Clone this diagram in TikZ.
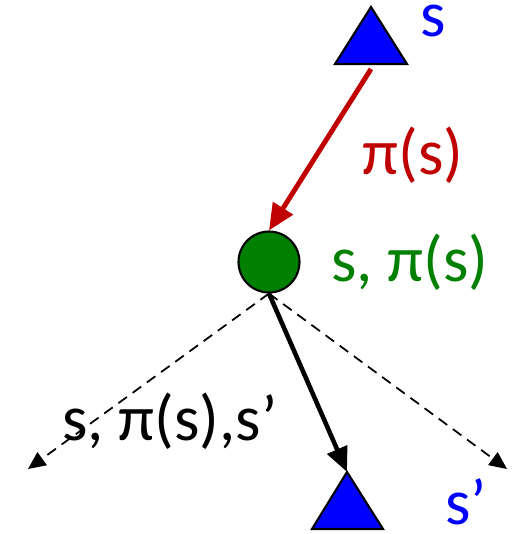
\documentclass[tikz,border=0pt]{standalone}
\usepackage{fontspec}
\setmainfont{Carlito}
\usetikzlibrary{positioning, calc, arrows.meta}
\definecolor{sblue}{RGB}{0,0,255}
\definecolor{sred}{RGB}{192,0,0}
\definecolor{sgreen}{RGB}{0,128,0}

\tikzset{
  tri/.style={draw=black, line width=1.2pt, fill=sblue},
  lbl/.style={font=\fontsize{37}{40}\selectfont, inner sep=0pt},
  chance/.style={dashed, dash pattern=on 6pt off 4pt, line width=1pt,
                 -{Triangle[length=10pt,width=9pt]}},
}

\begin{document}
\begin{tikzpicture}[x=0.02cm, y=-0.02cm]
            \useasboundingbox (0,0) rectangle (521,534);

            % top state
            \coordinate (Sapex) at (371,7);
            \coordinate (Sl) at (335,64);
            \coordinate (Sr) at (407,64);
            \fill[tri] (Sapex) -- (Sl) -- (Sr) -- cycle;
            \node[lbl, text=sblue, anchor=base] (ls) at (433,36) {s};

            % q-state
            \node[circle, draw=black, line width=1.2pt, fill=sgreen,
                  inner sep=0pt, minimum size=1.22cm] (Q) at (269,262) {};
            \node[lbl, text=sgreen] (lq) at (410,262) {s, π(s)};

            % policy arrow
            \coordinate (Stail) at (371,69);
            \draw[-{Triangle[length=15pt,width=13pt]}, sred, line width=2.8pt]
                (Stail) -- (Q.north);
            \node[lbl, text=sred] (lpi) at (413,155) {π(s)};

            % next state
            \coordinate (Napex) at (347,472);
            \coordinate (Nl) at (312,529);
            \coordinate (Nr) at (383,529);
            \fill[tri] (Napex) -- (Nl) -- (Nr) -- cycle;

            % transitions
            \coordinate (L) at (28,469);
            \coordinate (R) at (507,469);
            \draw[chance] (Q.south) -- (L);
            \draw[chance] (Q.south) -- (R);
            \draw[line width=2.6pt, -{Triangle[length=14pt,width=12pt]}] (Q.south) -- (Napex);

            \node[lbl] (lt) at (170,421) {s, π(s),s’};
            \node[lbl, text=sblue] (ls2) at (466,502) {s’};
        \end{tikzpicture}
\end{document}
